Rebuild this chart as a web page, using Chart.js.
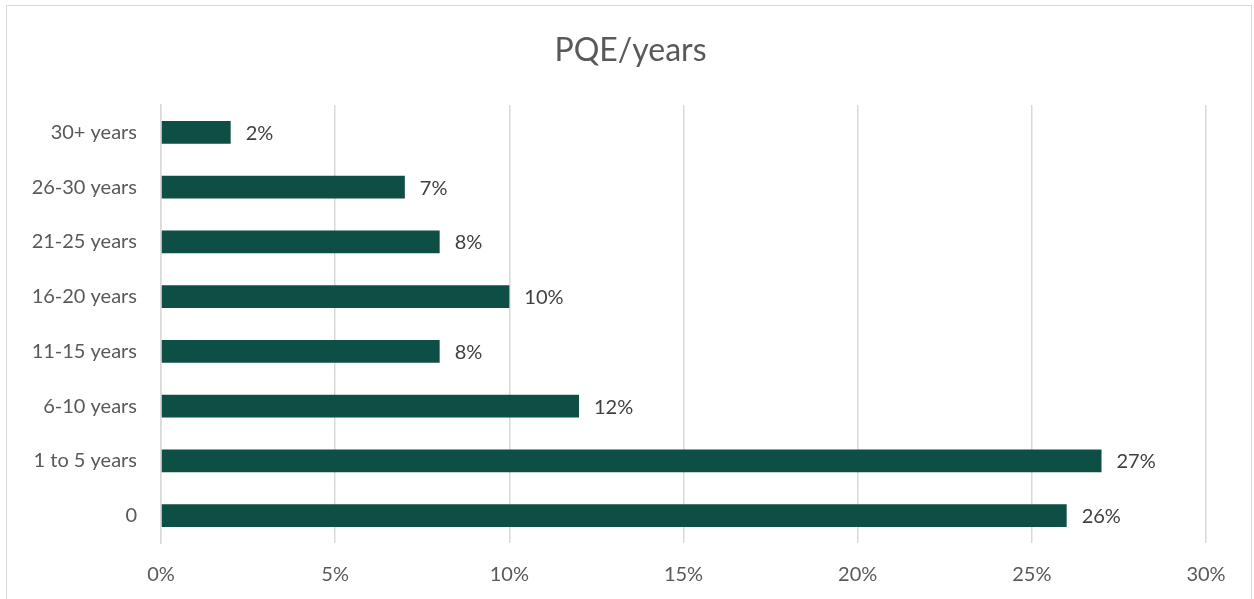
<!DOCTYPE html>
<html>
<head>
<meta charset="utf-8">
<script src="https://cdn.jsdelivr.net/npm/chart.js@4"></script>
<style>
  html, body { margin: 0; padding: 0; background: #fff; overflow: hidden; }
  #box {
    position: absolute; left: 6px; top: 5px;
    width: 1246px; height: 606px;
    border: 1px solid #d9d9d9; box-sizing: border-box;
  }
  #wrap { position: absolute; left: 1px; top: 1px; width: 1245px; height: 600px; }
</style>
</head>
<body>
<div id="box"><div id="wrap"><canvas id="myChart"></canvas></div></div>
<script>
const categories = ['30+ years', '26-30 years', '21-25 years', '16-20 years', '11-15 years', '6-10 years', '1 to 5 years', '0']
const values = [2, 7, 8, 10, 8, 12, 27, 26]
const tickValues = [0, 5, 10, 15, 20, 25, 30]
const chartTitle = 'PQE/years'

const fontName = 'Lato, "Noto Sans", sans-serif'

// draws the "x%" text just right of each bar
const barLabels = {
    id: 'barLabels',
    afterDatasetsDraw(chart) {
        const c = chart.ctx
        const meta = chart.getDatasetMeta(0)
        c.save()
        c.font = '20px ' + fontName
        c.fillStyle = '#404040'
        c.textBaseline = 'middle'
        c.textAlign = 'left'
        meta.data.forEach((bar, i) => {
            c.fillText(values[i] + '%', bar.x + 15, bar.y + 1)
        })
        c.restore()
    }
}

// title centred on the whole box, not on the plot area
const boxTitle = {
    id: 'boxTitle',
    afterDraw(chart) {
        const c = chart.ctx
        c.save()
        c.font = '32px ' + fontName
        c.fillStyle = '#595959'
        c.textAlign = 'center'
        c.textBaseline = 'middle'
        c.fillText(chartTitle, chart.width / 2, 44)
        c.restore()
    }
}

const ctx = document.getElementById('myChart')

const myChart = new Chart(ctx, {
    type: 'bar',
    data: {
        labels: categories,
        datasets: [{
            label: chartTitle,
            data: values,
            backgroundColor: '#0d4f45',
            categoryPercentage: 1,
            barPercentage: 0.42
        }]
    },
    options: {
        indexAxis: 'y',
        responsive: true,
        maintainAspectRatio: false,
        animation: false,
        layout: { padding: { top: 98, right: 47, left: 0, bottom: 0 } },
        plugins: {
            legend: { display: false },
            tooltip: { enabled: false },
            title: { display: false }
        },
        scales: {
            x: {
                min: 0,
                max: 30,
                afterBuildTicks(scale) {
                    scale.ticks = tickValues.map(v => ({ value: v }))
                },
                ticks: {
                    color: '#595959',
                    padding: 20,
                    font: { family: fontName, size: 20 },
                    callback: v => v + '%'
                },
                grid: { color: '#d9d9d9', lineWidth: 1.5, drawTicks: false },
                border: { display: false }
            },
            y: {
                afterFit(scale) { scale.width = 153 },
                ticks: {
                    color: '#595959',
                    padding: 16,
                    font: { family: fontName, size: 20 }
                },
                grid: { display: false },
                border: { display: true, color: '#d9d9d9', width: 1.5 }
            }
        }
    },
    plugins: [barLabels, boxTitle]
})
</script>
</body>
</html>
